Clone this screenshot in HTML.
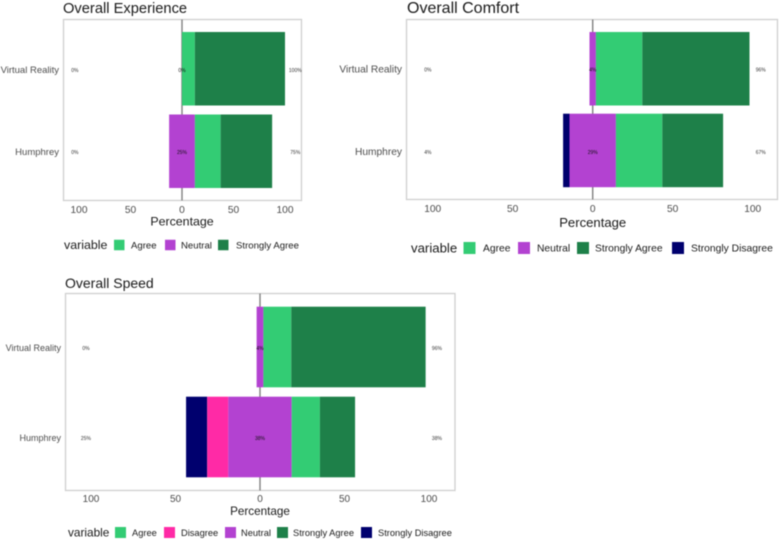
<!DOCTYPE html>
<html>
<head>
<meta charset="utf-8">
<style>
html,body{margin:0;padding:0;background:#fff;width:779px;height:540px;overflow:hidden}
svg{display:block;filter:blur(0.45px)}
text{font-family:"Liberation Sans",sans-serif}
</style>
</head>
<body>
<svg id="chart" width="779" height="540" viewBox="0 0 779 540" xmlns="http://www.w3.org/2000/svg"></svg>
<script>
// Data (percent of respondents)
var categories = ['Virtual Reality', 'Humphrey'];
var responses = ['Strongly Disagree', 'Disagree', 'Neutral', 'Agree', 'Strongly Agree'];
var ticks = [-100, -50, 0, 50, 100];
var tickLabels = ['100', '50', '0', '50', '100'];

// Values per response, ordered as `responses`
var experienceVR = [0, 0, 0, 12.5, 87.5];
var experienceHumphrey = [0, 0, 25, 25, 50];
var comfortVR = [0, 0, 4, 29, 67];
var comfortHumphrey = [4, 0, 29, 29, 38];
var speedVR = [0, 0, 4, 16.5, 79.5];
var speedHumphrey = [12.5, 12.5, 37.5, 16.7, 20.8];

// Printed percentages: low, neutral, high
var experienceVRLabels = ['0%', '0%', '100%'];
var experienceHumphreyLabels = ['0%', '25%', '75%'];
var comfortVRLabels = ['0%', '4%', '96%'];
var comfortHumphreyLabels = ['4%', '29%', '67%'];
var speedVRLabels = ['0%', '4%', '96%'];
var speedHumphreyLabels = ['25%', '38%', '38%'];

var colors = {
  'Strongly Disagree': '#00006e',
  'Disagree': '#ff2aa6',
  'Neutral': '#b342d1',
  'Agree': '#33cc74',
  'Strongly Agree': '#1e8049'
};

var panels = [
  {
    key: 'experience', title: 'Overall Experience', titleSize: 14.7, titleX: 63, titleY: 13,
    left: 63.5, right: 301.5, top: 19.5, bottom: 200.5, zero: 182, unit: 1.03,
    rows: [experienceVR, experienceHumphrey], labels: [experienceVRLabels, experienceHumphreyLabels],
    bandTop: [32, 114.5], bandH: 73.5, rowY: [70, 152], catSize: 9.5,
    tickY: 213, tickSize: 10.2, axisY: 225.5, axisSize: 12.4,
    lowAt: -104, highAt: 110,
    legendY: 245, varX: 64, varSize: 12.4, swatch: 10.5,
    legend: [['Agree', 114, 131], ['Neutral', 165, 181], ['Strongly Agree', 218, 236]], legSize: 9.6
  },
  {
    key: 'comfort', title: 'Overall Comfort', titleSize: 16, titleX: 407, titleY: 13,
    left: 406.5, right: 777.5, top: 19.5, bottom: 199.5, zero: 592.7, unit: 1.6,
    rows: [comfortVR, comfortHumphrey], labels: [comfortVRLabels, comfortHumphreyLabels],
    bandTop: [32, 113.7], bandH: 73.5, rowY: [69.5, 152], catSize: 10.2,
    tickY: 212, tickSize: 10.2, axisY: 227, axisSize: 13.1,
    lowAt: -103, highAt: 105,
    legendY: 248, varX: 411, varSize: 13.2, swatch: 12,
    legend: [['Agree', 463.5, 483], ['Neutral', 518, 537], ['Strongly Agree', 577, 595], ['Strongly Disagree', 672, 691]], legSize: 10.3
  },
  {
    key: 'speed', title: 'Overall Speed', titleSize: 14, titleX: 65, titleY: 288,
    left: 65.5, right: 455, top: 293.5, bottom: 490.5, zero: 260, unit: 1.69,
    rows: [speedVR, speedHumphrey], labels: [speedVRLabels, speedHumphreyLabels],
    bandTop: [306.7, 396.7], bandH: 80.6, rowY: [348, 438], catSize: 9,
    tickY: 502, tickSize: 10, axisY: 515, axisSize: 11.7,
    lowAt: -103, highAt: 104.7,
    legendY: 532.5, varX: 68, varSize: 11.8, swatch: 11,
    legend: [['Agree', 115, 132], ['Disagree', 164, 181], ['Neutral', 225, 241], ['Strongly Agree', 277, 293], ['Strongly Disagree', 361, 378]], legSize: 9.3
  }
];

var svg = document.getElementById('chart');
var NS = 'http://www.w3.org/2000/svg';

function make(tag, attrs, parent, content) {
  var el = document.createElementNS(NS, tag);
  for (var k in attrs) el.setAttribute(k, attrs[k]);
  if (content !== undefined) el.textContent = content;
  parent.appendChild(el);
  return el;
}

function drawPanel(p) {
  var g = make('g', {}, svg);
  
  

  function xScale(v) { return p.zero + v * p.unit; }

  var title = make('text', {x: p.titleX, y: p.titleY, 'font-size': p.titleSize, fill: '#1a1a1a'}, g, p.title);
  
  

  var frame = make('rect', {x: p.left, y: p.top, width: p.right - p.left, height: p.bottom - p.top, fill: '#fff', stroke: '#cfcfcf', 'stroke-width': 1.3}, g);
  
  

  var zeroLine = make('line', {x1: p.zero, x2: p.zero, y1: p.top, y2: p.bottom, stroke: '#808080', 'stroke-width': 1.4}, g);
  
  

  p.rows.forEach(function (values, r) {
    var start = -(values[0] + values[1] + values[2] / 2);
    var cursor = start;
    values.forEach(function (value, i) {
      if (value > 0) {
        var bar = make('rect', {
          x: xScale(cursor), y: p.bandTop[r],
          width: value * p.unit, height: p.bandH,
          fill: colors[responses[i]]
        }, g);
        
        
      }
      cursor += value;
    });

    var cat = make('text', {x: p.left - 4.5, y: p.rowY[r] + 3, 'font-size': p.catSize, 'text-anchor': 'end', fill: '#4d4d4d'}, g, categories[r]);
    
    

    var positions = [p.lowAt, 0, p.highAt];
    p.labels[r].forEach(function (txt, j) {
      var lab = make('text', {x: xScale(positions[j]), y: p.rowY[r] + 1.8, 'font-size': 5, 'text-anchor': 'middle', fill: j === 1 ? '#111' : '#333'}, g, txt);
      
      
    });
  });

  ticks.forEach(function (t, i) {
    var lab = make('text', {x: xScale(t), y: p.tickY, 'font-size': p.tickSize, 'text-anchor': 'middle', fill: '#4d4d4d'}, g, tickLabels[i]);
    
    
  });

  var axis = make('text', {x: p.zero, y: p.axisY, 'font-size': p.axisSize, 'text-anchor': 'middle', fill: '#1a1a1a'}, g, 'Percentage');
  
  

  var legendTitle = make('text', {x: p.varX, y: p.legendY + p.varSize * 0.34, 'font-size': p.varSize, fill: '#1a1a1a'}, g, 'variable');
  
  

  p.legend.forEach(function (item) {
    var sw = make('rect', {x: item[1], y: p.legendY - p.swatch / 2, width: p.swatch, height: p.swatch, fill: colors[item[0]]}, g);
    
    
    var tx = make('text', {x: item[2], y: p.legendY + p.legSize * 0.36, 'font-size': p.legSize, fill: '#1a1a1a'}, g, item[0]);
    
    
  });
}

panels.forEach(drawPanel);
</script>
</body>
</html>
